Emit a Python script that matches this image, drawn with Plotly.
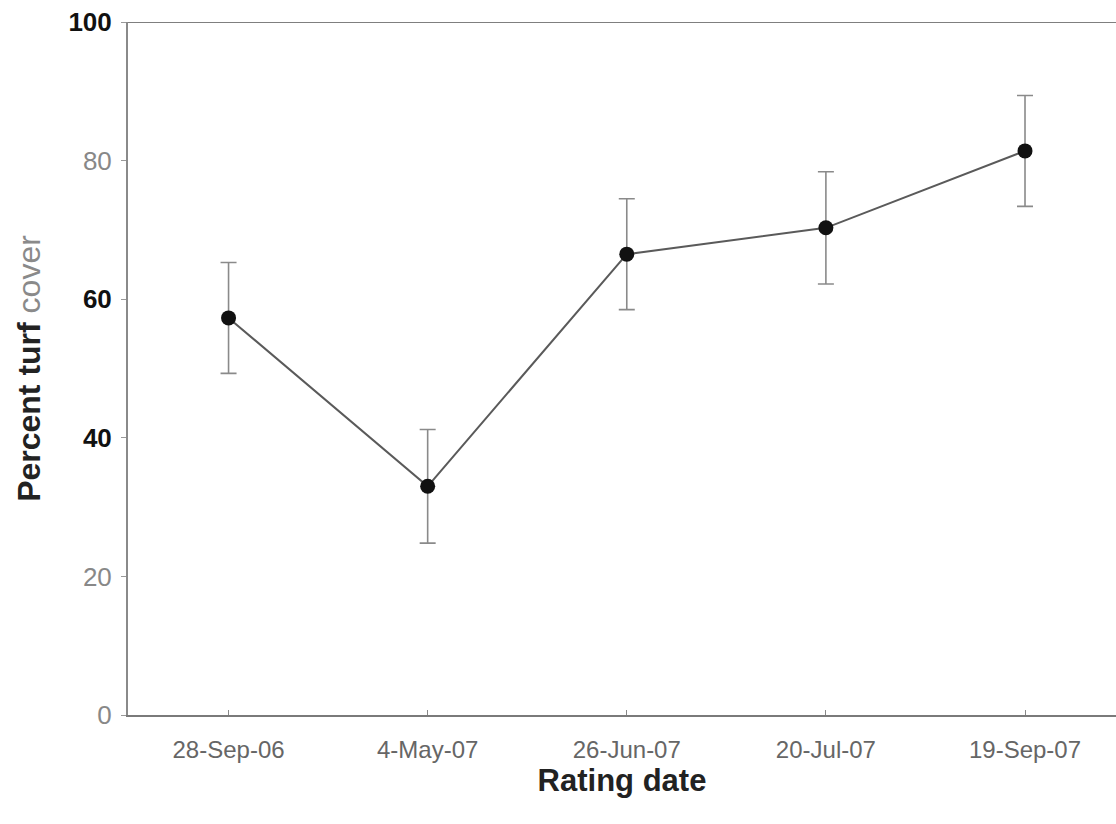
import plotly.graph_objects as go

# Rating dates and mean turf cover (%) with error bar half-widths
rating_dates = ["28-Sep-06", "4-May-07", "26-Jun-07", "20-Jul-07", "19-Sep-07"]
turf_cover = [57.3, 33.0, 66.5, 70.3, 81.4]
error_half = [8.0, 8.2, 8.0, 8.1, 8.0]

y_tick_vals = [0, 20, 40, 60, 80, 100]
y_tick_text = [
    "0",
    "20",
    "<b><span style='color:#111111'>40</span></b>",
    "<b><span style='color:#111111'>60</span></b>",
    "80",
    "<b><span style='color:#111111'>100</span></b>",
]

x_idx = list(range(len(rating_dates)))

fig = go.Figure()
fig.add_trace(go.Scatter(
    x=x_idx,
    y=turf_cover,
    mode="lines+markers",
    line=dict(color="#5a5a5a", width=2),
    marker=dict(color="#111111", size=15),
    error_y=dict(type="data", array=error_half, visible=True,
                 color="#8a8a8a", thickness=1.6, width=8),
    showlegend=False,
))

# Top border of the frame
fig.add_shape(type="line", xref="paper", yref="y", x0=0, x1=1, y0=100, y1=100,
              line=dict(color="#555555", width=1.5))

fig.update_layout(
    width=1116, height=824,
    margin=dict(l=128, r=0, t=22, b=109),
    paper_bgcolor="white", plot_bgcolor="white",
    font=dict(family="Liberation Sans, Arial, sans-serif", color="#777777"),
    xaxis=dict(
        range=[-0.505, 4.457],
        tickmode="array", tickvals=x_idx, ticktext=rating_dates,
        showgrid=False, zeroline=False,
        showline=True, linecolor="#7a7a7a", linewidth=2,
        ticks="inside", ticklen=5, tickcolor="#888888",
        tickfont=dict(size=24, color="#666666"),
        ticklabelstandoff=12,
        title=dict(text="<b>Rating date</b>", font=dict(size=31, color="#222222"), standoff=4),
    ),
    yaxis=dict(
        range=[0, 100],
        tickmode="array", tickvals=y_tick_vals, ticktext=y_tick_text,
        showgrid=False, zeroline=False,
        showline=True, linecolor="#8a8a8a", linewidth=2,
        ticks="outside", ticklen=5, tickcolor="#999999",
        tickfont=dict(size=26, color="#888888"),
        ticklabelstandoff=4,
        title=dict(text="<b>Percent turf</b> <span style='color:#8a8a8a'>cover</span>",
                   font=dict(size=32, color="#222222"), standoff=18),
    ),
)

fig.write_html("out.html")
